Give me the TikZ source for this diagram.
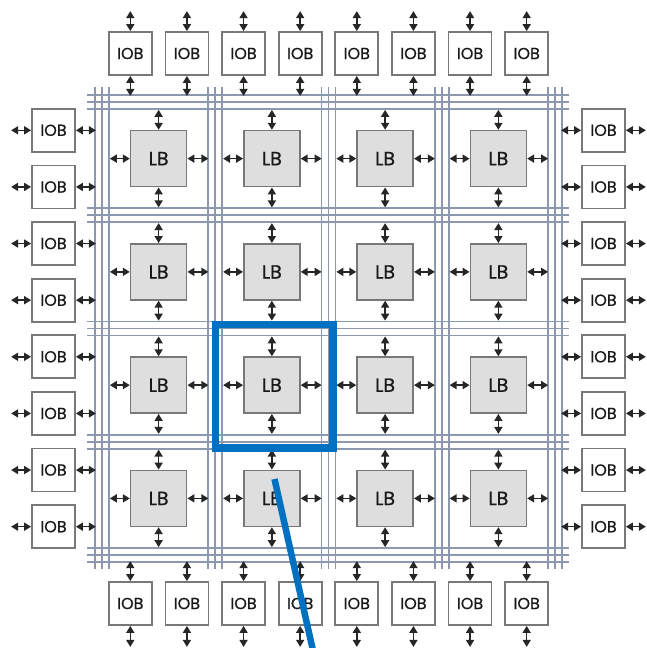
\documentclass[tikz,border=0pt]{standalone}
\usepackage{fontspec}
\setmainfont{Poppins}
\newfontfamily\diagfont{Poppins}[FakeBold=0.6]
\usetikzlibrary{arrows.meta,calc}
\definecolor{wire}{RGB}{140,152,176}
\definecolor{lbfill}{RGB}{222,222,222}
\definecolor{boxline}{RGB}{120,120,120}
\definecolor{hl}{RGB}{0,112,192}
\tikzset{
 lbbox/.style={draw=boxline,fill=lbfill,line width=1.6pt,minimum width=56pt,minimum height=56pt,inner sep=0pt,font=\diagfont\fontsize{19}{19}\selectfont,text=black!90},
 iobbox/.style={draw=boxline,fill=white,line width=1.8pt,minimum width=43pt,minimum height=43pt,inner sep=0pt,font=\diagfont\fontsize{16}{16}\selectfont,text=black!90},
 bidir/.style={line width=1.6pt,draw=black!85,{Triangle[length=7pt,width=8pt]}-{Triangle[length=7pt,width=8pt]}},
 wireline/.style={draw=wire,line width=1.6pt},
 hlbox/.style={draw=hl,line width=7.5pt},
 hlline/.style={draw=hl,line width=6.5pt},
}
\begin{document}
\begin{tikzpicture}[x=1pt,y=-1pt]
\useasboundingbox (0,0) rectangle (646,648);
% routing channels
\foreach \k in {0,...,4}{
  \pgfmathsetmacro\c{102+113.25*\k}
  \foreach \o in {-7,0,7}{
    \draw[wireline] (\c+\o,87) -- (\c+\o,569);
    \draw[wireline] (87,\c+\o) -- (569,\c+\o);
  }
}
% logic blocks
\foreach \i in {1,...,4}{
  \foreach \j in {1,...,4}{
    \pgfmathsetmacro\x{158.625+113.25*(\i-1)}
    \pgfmathsetmacro\y{158.625+113.25*(\j-1)}
    \node[lbbox] (lb-\i-\j) at (\x,\y) {LB};
    \coordinate (lbn-\i-\j) at ($(lb-\i-\j.north)+(0,-20)$);
    \coordinate (lbs-\i-\j) at ($(lb-\i-\j.south)+(0,20)$);
    \coordinate (lbw-\i-\j) at ($(lb-\i-\j.west)+(-20,0)$);
    \coordinate (lbe-\i-\j) at ($(lb-\i-\j.east)+(21,0)$);
    \draw[bidir] (lb-\i-\j.north) -- (lbn-\i-\j);
    \draw[bidir] (lb-\i-\j.south) -- (lbs-\i-\j);
    \draw[bidir] (lb-\i-\j.west) -- (lbw-\i-\j);
    \draw[bidir] (lb-\i-\j.east) -- (lbe-\i-\j);
  }
}
% I/O blocks
\foreach \n in {0,...,7}{
  \pgfmathsetmacro\p{130.3+56.625*\n}
  \node[iobbox] (iobT-\n) at (\p,53.5) {IOB};
  \node[iobbox] (iobB-\n) at (\p,603.5) {IOB};
  \node[iobbox] (iobL-\n) at (53.5,\p) {IOB};
  \node[iobbox] (iobR-\n) at (603.5,\p) {IOB};
  \coordinate (tT-\n) at ($(iobT-\n.north)+(0,-20)$);
  \coordinate (tB-\n) at ($(iobT-\n.south)+(0,20)$);
  \coordinate (bT-\n) at ($(iobB-\n.north)+(0,-20)$);
  \coordinate (bB-\n) at ($(iobB-\n.south)+(0,21)$);
  \coordinate (lL-\n) at ($(iobL-\n.west)+(-20,0)$);
  \coordinate (lR-\n) at ($(iobL-\n.east)+(20,0)$);
  \coordinate (rL-\n) at ($(iobR-\n.west)+(-20,0)$);
  \coordinate (rR-\n) at ($(iobR-\n.east)+(20,0)$);
  \draw[bidir] (iobT-\n.north) -- (tT-\n);
  \draw[bidir] (iobT-\n.south) -- (tB-\n);
  \draw[bidir] (iobB-\n.north) -- (bT-\n);
  \draw[bidir] (iobB-\n.south) -- (bB-\n);
  \draw[bidir] (iobL-\n.west) -- (lL-\n);
  \draw[bidir] (iobL-\n.east) -- (lR-\n);
  \draw[bidir] (iobR-\n.west) -- (rL-\n);
  \draw[bidir] (iobR-\n.east) -- (rR-\n);
}
% highlight
\draw[hlbox] (215.5,324.5) rectangle (333,448);
\coordinate (ptrA) at (274.5,479);
\coordinate (ptrB) at (314,655);
\draw[hlline] (ptrA) -- (ptrB);
\end{tikzpicture}
\end{document}
